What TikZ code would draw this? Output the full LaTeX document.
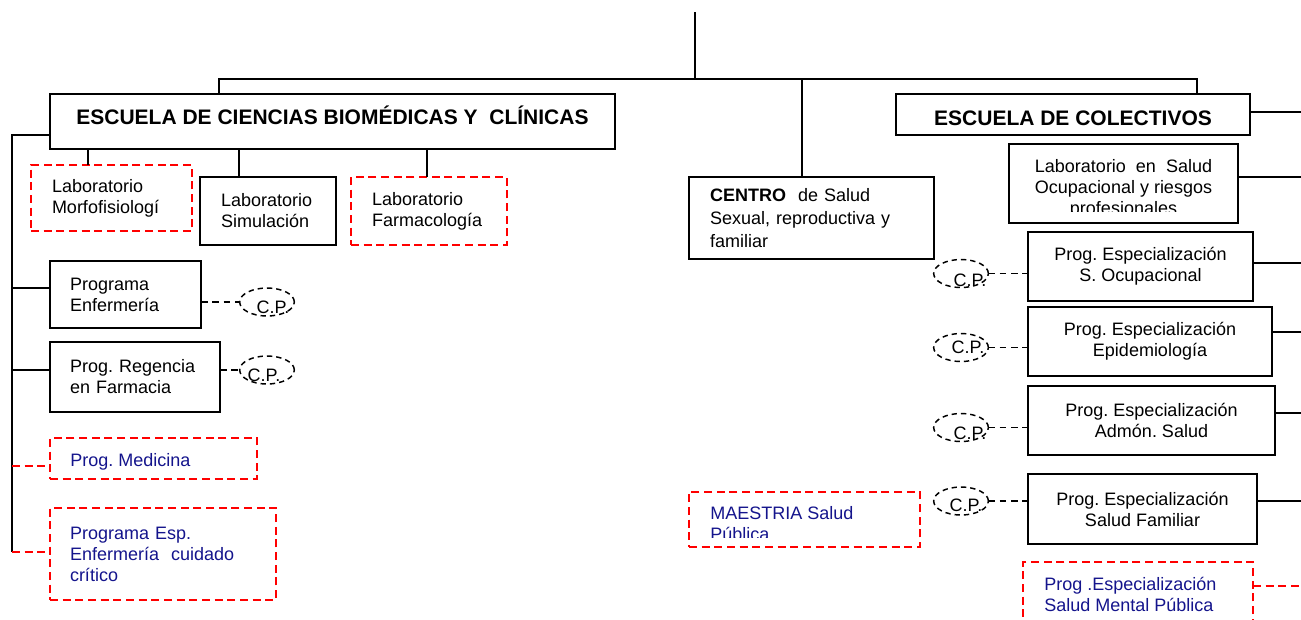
\documentclass[tikz,border=0pt]{standalone}
\usepackage{fontspec}
\setmainfont{Liberation Sans}
\usetikzlibrary{shapes.geometric}
\definecolor{blu}{RGB}{20,20,140}
\frenchspacing
\tikzset{
 bbox/.style={draw=black, line width=1.5pt, inner sep=0pt, outer sep=0pt, font=\fontsize{13.5}{15.75}\selectfont},
 rbox/.style={draw=red, line width=1.5pt, dash pattern=on 6pt off 3.5pt, inner sep=0pt, outer sep=0pt, font=\fontsize{13.5}{15.75}\selectfont},
 conn/.style={line width=1.1pt},
 cpconn/.style={line width=1.2pt, dash pattern=on 5pt off 3.5pt},
 rconn/.style={draw=red, line width=1.5pt, dash pattern=on 6pt off 3.5pt},
 cp/.style={ellipse, draw, line width=1.1pt, dash pattern=on 4pt off 3pt, inner sep=0pt, outer sep=0pt, minimum width=41pt, minimum height=21pt},
 cptxt/.style={font=\fontsize{13.5}{15.75}\selectfont, inner sep=0pt},
 txt/.style={font=\fontsize{13.5}{15.75}\selectfont, inner sep=0pt, align=left},
 ctxt/.style={font=\fontsize{13.5}{15.75}\selectfont, inner sep=0pt, align=center},
 titlefont/.style={font=\fontsize{15.75}{18}\selectfont\bfseries},
}
\begin{document}
\begin{tikzpicture}[x=0.75pt,y=-0.75pt]
\useasboundingbox (0,0) rectangle (1301,619);

% left school
\node[bbox,titlefont,minimum width=423.75pt,minimum height=41.25pt,text height=11pt,text depth=5.8pt] (esc1) at (332.5,121.5) {ESCUELA DE CIENCIAS BIOMÉDICAS Y \ CLÍNICAS};
\node[rbox,txt,minimum width=120.75pt,minimum height=49.5pt,text width=89.25pt] (morfo) at (111.5,198) {Laboratorio\\Morfofisiologí};
\node[bbox,txt,minimum width=102pt,minimum height=51pt,text width=70.5pt] (sim) at (268,211) {Laboratorio\\Simulación};
\node[rbox,txt,minimum width=117pt,minimum height=51pt,text width=85.5pt] (farm) at (429,211) {Laboratorio\\Farmacología};
\node[bbox,txt,minimum width=113.25pt,minimum height=50.25pt,text width=83.25pt] (enf) at (125.5,294.5) {Programa\\Enfermería};
\node[bbox,txt,minimum width=127.5pt,minimum height=52.5pt,text width=97.5pt] (reg) at (135,377) {Prog. Regencia\\en Farmacia};
\node[rbox,minimum width=155.25pt,minimum height=30.75pt] (med) at (153.5,458.5) {};
\begin{scope}
 \clip (50,438) rectangle (257,469);
 \node[txt,text=blu,anchor=base west] (medt) at (70,466.5) {Prog. Medicina};
\end{scope}
\node[rbox,txt,text=blu,minimum width=169.5pt,minimum height=69pt,text width=139.5pt] (esp) at (163,554) {Programa Esp.\\Enfermería \ cuidado\\crítico};

\node[cp] (cp1) at (267,302) {};
\node[cptxt] (cp1t) at (273,307) {C.P.};
\node[cp] (cp2) at (267,370) {};
\node[cptxt] (cp2t) at (264,375) {C.P.};

% centre
\node[bbox,font=\fontsize{13.5}{17}\selectfont,inner sep=0pt,align=left,minimum width=183.75pt,minimum height=61.5pt,text width=152.25pt] (centro) at (811.5,218) {\textbf{CENTRO} \ de Salud\\Sexual, reproductiva y\\familiar};
\node[rbox,minimum width=173.25pt,minimum height=41.25pt] (maes) at (804.5,519.5) {};
\begin{scope}
 \clip (689,492) rectangle (920,537);
 \node[txt,text=blu,anchor=west] (maest) at (710,524) {MAESTRIA Salud\\Pública};
\end{scope}

% right school
\node[bbox,titlefont,minimum width=265.5pt,minimum height=30.75pt,text height=15.8pt,text depth=0pt] (esc2) at (1073,114.5) {ESCUELA DE COLECTIVOS};
\node[bbox,minimum width=171.75pt,minimum height=59.25pt] (labocup) at (1123.5,183.5) {};
\begin{scope}
 \clip (1009,144) rectangle (1238,211);
 \node[ctxt] (labocupt) at (1123.5,188.5) {Laboratorio \ en \ Salud\\Ocupacional y riesgos\\profesionales};
\end{scope}
\node[bbox,ctxt,minimum width=168.75pt,minimum height=51.75pt] (socup) at (1140.5,266.5) {Prog. Especialización\\S. Ocupacional};
\node[bbox,ctxt,minimum width=183pt,minimum height=51.75pt] (epi) at (1150,341.5) {Prog. Especialización\\Epidemiología};
\node[bbox,ctxt,minimum width=185.25pt,minimum height=51.75pt] (adm) at (1151.5,420.5) {Prog. Especialización\\Admón. Salud};
\node[bbox,ctxt,minimum width=171.75pt,minimum height=52.5pt] (fam) at (1142.5,509) {Prog. Especialización\\Salud Familiar};
\node[rbox,minimum width=172.5pt,minimum height=66pt] (ment) at (1138,606) {};
\node[txt,text=blu,anchor=west] (mentt) at (1044,594) {Prog .Especialización\\Salud Mental Pública};

\node[cp] (cp3) at (961,273.5) {};
\node[cptxt] (cp3t) at (970,280) {C.P.};
\node[cp] (cp4) at (961,347.5) {};
\node[cptxt] (cp4t) at (968,347) {C.P.};
\node[cp] (cp5) at (961,427.5) {};
\node[cptxt] (cp5t) at (970,433) {C.P.};
\node[cp] (cp6) at (961,501) {};
\node[cptxt] (cp6t) at (966,505) {C.P.};

% top connectors
\coordinate (top) at (695,12);
\coordinate (hub) at (695,79);
\coordinate (jl) at (219,79);
\coordinate (jm) at (802,79);
\coordinate (jr) at (1197,79);
\draw[conn] (top) -- (hub);
\draw[conn] (esc1.north -| jl) -- (jl) -- (jr) -- (esc2.north -| jr);
\draw[conn] (jm) -- (centro.north -| jm);

% left spine
\coordinate (sp0) at (12,135);
\coordinate (sp1) at (12,552);
\draw[conn] (esc1.west |- sp0) -- (sp0) -- (sp1);
\draw[conn] (sp0 |- 0,288) -- (enf.west |- 0,288);
\draw[conn] (sp0 |- 0,370) -- (reg.west |- 0,370);
\draw[rconn] (sp0 |- 0,466) -- (med.west |- 0,466);
\draw[rconn] (sp1) -- (esp.west |- sp1);

% labs under school 1
\draw[conn] (esc1.south -| 88,0) -- (morfo.north -| 88,0);
\draw[conn] (esc1.south -| 239,0) -- (sim.north -| 239,0);
\draw[conn] (esc1.south -| 427,0) -- (farm.north -| 427,0);

% C.P. links
\draw[cpconn] (enf.east |- cp1) -- (cp1.west);
\draw[cpconn] (reg.east |- cp2) -- (cp2.west);
\draw[cpconn] (cp3.east) -- (socup.west |- cp3);
\draw[cpconn] (cp4.east) -- (epi.west |- cp4);
\draw[cpconn] (cp5.east) -- (adm.west |- cp5);
\draw[cpconn] (cp6.east) -- (fam.west |- cp6);

% right edge links
\coordinate (re) at (1301,0);
\draw[conn] (esc2.east |- 0,112) -- (re |- 0,112);
\draw[conn] (labocup.east |- 0,177) -- (re |- 0,177);
\draw[conn] (socup.east |- 0,263) -- (re |- 0,263);
\draw[conn] (epi.east |- 0,332) -- (re |- 0,332);
\draw[conn] (adm.east |- 0,413) -- (re |- 0,413);
\draw[conn] (fam.east |- 0,501) -- (re |- 0,501);
\draw[rconn] (ment.east |- 0,586) -- (re |- 0,586);
\end{tikzpicture}
\end{document}
